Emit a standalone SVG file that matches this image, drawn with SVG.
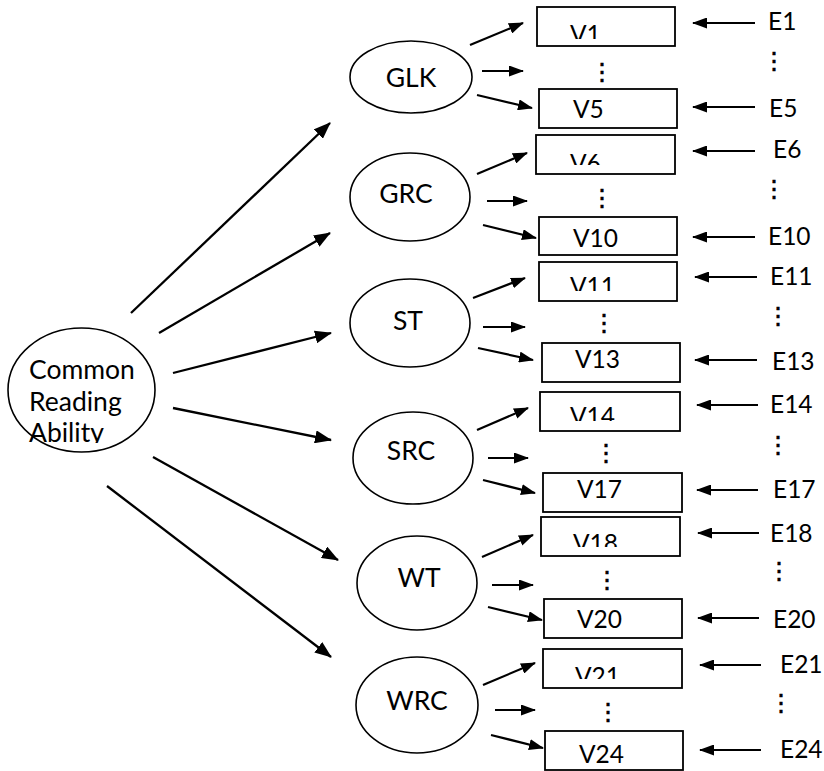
<svg xmlns="http://www.w3.org/2000/svg" width="824" height="771" viewBox="0 0 824 771">
<style>
.el{fill:#fff;stroke:#000;stroke-width:1.6}
.bx{fill:#fff;stroke:#000;stroke-width:1.8}
.lbl{font-family:Lato,"Liberation Sans",sans-serif;font-size:26.5px;fill:#000}
.vl{font-family:Lato,"Liberation Sans",sans-serif;font-size:24.5px;fill:#000}
.dots{font-family:"DejaVu Sans",sans-serif;font-size:24px;fill:#000;text-anchor:middle;stroke:#000;stroke-width:0.6}
.ln{stroke:#000;stroke-width:2.2;fill:none;marker-end:url(#ah)}
.mln{stroke:#000;stroke-width:2.3;fill:none;marker-end:url(#ahl)}
</style>
<defs>
<marker id="ah" markerWidth="15" markerHeight="11" refX="14" refY="5.5" orient="auto" markerUnits="userSpaceOnUse"><path d="M0,0 L15,5.5 L0,11 z" fill="#000"/></marker>
<marker id="ahl" markerWidth="17" markerHeight="13" refX="16" refY="6.5" orient="auto" markerUnits="userSpaceOnUse"><path d="M0,0 L17,6.5 L0,13 z" fill="#000"/></marker>
<clipPath id="cA"><rect x="0" y="0" width="200" height="443"/></clipPath>
<clipPath id="c1"><rect x="537" y="7" width="138" height="32"/></clipPath>
<clipPath id="c6"><rect x="536" y="135" width="139" height="30"/></clipPath>
<clipPath id="c11"><rect x="539" y="262" width="138" height="29"/></clipPath>
<clipPath id="c14"><rect x="540" y="392" width="140" height="29"/></clipPath>
<clipPath id="c18"><rect x="541" y="517" width="139" height="30"/></clipPath>
<clipPath id="c21"><rect x="543" y="649" width="139" height="30"/></clipPath>
</defs>

<g id="connectors">
<line class="mln" x1="131" y1="313" x2="330" y2="123"/>
<line class="mln" x1="159" y1="333" x2="330" y2="233"/>
<line class="mln" x1="173" y1="373" x2="331" y2="333"/>
<line class="mln" x1="173" y1="408" x2="331" y2="440"/>
<line class="mln" x1="153" y1="457" x2="338" y2="560"/>
<line class="mln" x1="107" y1="486" x2="331" y2="657"/>

<line class="ln" x1="470" y1="45" x2="523" y2="23"/>
<line class="ln" x1="482" y1="71" x2="523" y2="71"/>
<line class="ln" x1="477" y1="95" x2="532" y2="108"/>
<line class="ln" x1="477" y1="174" x2="527" y2="153"/>
<line class="ln" x1="487" y1="201" x2="527" y2="201"/>
<line class="ln" x1="483" y1="225" x2="536" y2="238"/>
<line class="ln" x1="473" y1="298" x2="525" y2="278"/>
<line class="ln" x1="483" y1="327" x2="525" y2="327"/>
<line class="ln" x1="478" y1="348" x2="533" y2="360"/>
<line class="ln" x1="477" y1="430" x2="528" y2="408"/>
<line class="ln" x1="488" y1="458" x2="528" y2="458"/>
<line class="ln" x1="483" y1="480" x2="535" y2="493"/>
<line class="ln" x1="482" y1="557" x2="533" y2="535"/>
<line class="ln" x1="492" y1="585" x2="533" y2="585"/>
<line class="ln" x1="488" y1="607" x2="542" y2="620"/>
<line class="ln" x1="483" y1="685" x2="535" y2="663"/>
<line class="ln" x1="495" y1="710" x2="535" y2="710"/>
<line class="ln" x1="491" y1="735" x2="543" y2="748"/>

<line class="ln" x1="755" y1="23" x2="693" y2="23"/>
<line class="ln" x1="755" y1="107" x2="693" y2="107"/>
<line class="ln" x1="755" y1="151" x2="693" y2="151"/>
<line class="ln" x1="755" y1="237" x2="693" y2="237"/>
<line class="ln" x1="757" y1="277" x2="695" y2="277"/>
<line class="ln" x1="757" y1="360" x2="695" y2="360"/>
<line class="ln" x1="758" y1="405" x2="697" y2="405"/>
<line class="ln" x1="758" y1="490" x2="697" y2="490"/>
<line class="ln" x1="759" y1="533" x2="698" y2="533"/>
<line class="ln" x1="759" y1="618" x2="698" y2="618"/>
<line class="ln" x1="761" y1="665" x2="700" y2="665"/>
<line class="ln" x1="761" y1="750" x2="700" y2="750"/>
</g>

<g id="common">
<ellipse class="el" cx="81.5" cy="390" rx="73.5" ry="62"/>
<g clip-path="url(#cA)">
<text class="lbl" x="29" y="379">Common</text>
<text class="lbl" x="29" y="411">Reading</text>
<text class="lbl" x="29" y="442">Ability</text>
</g>
</g>

<g id="GLK"><ellipse class="el" cx="411" cy="77" rx="61" ry="36"/><text class="lbl" x="411" y="87" text-anchor="middle">GLK</text></g>
<g id="GRC"><ellipse class="el" cx="410" cy="197" rx="60" ry="44"/><text class="lbl" x="406" y="203" text-anchor="middle">GRC</text></g>
<g id="ST"><ellipse class="el" cx="410" cy="323" rx="60" ry="44"/><text class="lbl" x="408" y="330" text-anchor="middle">ST</text></g>
<g id="SRC"><ellipse class="el" cx="413" cy="458" rx="60" ry="46"/><text class="lbl" x="411" y="460" text-anchor="middle">SRC</text></g>
<g id="WT"><ellipse class="el" cx="417" cy="583" rx="60" ry="47"/><text class="lbl" x="419" y="587" text-anchor="middle">WT</text></g>
<g id="WRC"><ellipse class="el" cx="417" cy="705" rx="61" ry="48"/><text class="lbl" x="417" y="710" text-anchor="middle">WRC</text></g>

<g id="V1"><rect class="bx" x="537" y="7" width="138" height="39"/><text class="vl" x="570" y="43" clip-path="url(#c1)">V1</text></g>
<g id="V5"><rect class="bx" x="539" y="89" width="138" height="39"/><text class="vl" x="573" y="118">V5</text></g>
<g id="V6"><rect class="bx" x="536" y="135" width="139" height="39"/><text class="vl" x="570" y="172" clip-path="url(#c6)">V6</text></g>
<g id="V10"><rect class="bx" x="539" y="217" width="138" height="38"/><text class="vl" x="573" y="247">V10</text></g>
<g id="V11"><rect class="bx" x="539" y="262" width="138" height="39"/><text class="vl" x="570" y="295" clip-path="url(#c11)">V11</text></g>
<g id="V13"><rect class="bx" x="542" y="343" width="138" height="39"/><text class="vl" x="575" y="368">V13</text></g>
<g id="V14"><rect class="bx" x="540" y="392" width="140" height="39"/><text class="vl" x="570" y="425" clip-path="url(#c14)">V14</text></g>
<g id="V17"><rect class="bx" x="543" y="473" width="139" height="39"/><text class="vl" x="577" y="498">V17</text></g>
<g id="V18"><rect class="bx" x="541" y="517" width="139" height="39"/><text class="vl" x="573" y="552" clip-path="url(#c18)">V18</text></g>
<g id="V20"><rect class="bx" x="544" y="599" width="138" height="39"/><text class="vl" x="577" y="628">V20</text></g>
<g id="V21"><rect class="bx" x="543" y="649" width="139" height="39"/><text class="vl" x="575" y="685" clip-path="url(#c21)">V21</text></g>
<g id="V24"><rect class="bx" x="545" y="731" width="138" height="39"/><text class="vl" x="579" y="763">V24</text></g>

<g id="dots">
<text class="dots" x="602" y="80">⋮</text>
<text class="dots" x="602" y="206">⋮</text>
<text class="dots" x="604" y="331">⋮</text>
<text class="dots" x="606" y="461">⋮</text>
<text class="dots" x="607" y="588">⋮</text>
<text class="dots" x="608" y="720">⋮</text>
<text class="dots" x="774" y="69">⋮</text>
<text class="dots" x="774" y="197">⋮</text>
<text class="dots" x="778" y="324">⋮</text>
<text class="dots" x="778" y="453">⋮</text>
<text class="dots" x="779" y="579">⋮</text>
<text class="dots" x="781" y="711">⋮</text>
</g>

<g id="errors">
<text class="vl" x="768" y="30">E1</text>
<text class="vl" x="769" y="117">E5</text>
<text class="vl" x="773" y="158">E6</text>
<text class="vl" x="768" y="245">E10</text>
<text class="vl" x="770" y="285">E11</text>
<text class="vl" x="772" y="370">E13</text>
<text class="vl" x="770" y="413">E14</text>
<text class="vl" x="773" y="498">E17</text>
<text class="vl" x="770" y="542">E18</text>
<text class="vl" x="773" y="628">E20</text>
<text class="vl" x="780" y="673">E21</text>
<text class="vl" x="780" y="758">E24</text>
</g>
</svg>
